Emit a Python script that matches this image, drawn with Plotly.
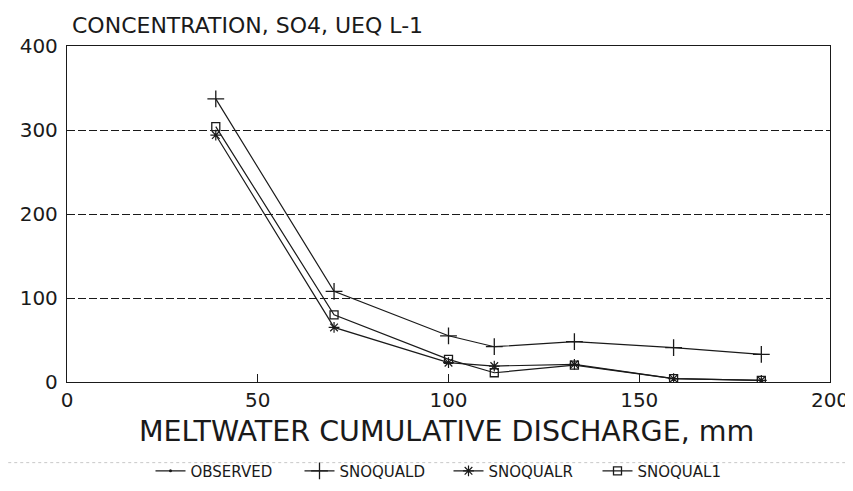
import plotly.graph_objects as go

# Data
discharge = [39, 70, 100, 112, 133, 159, 182]
observed = [None] * len(discharge)  # legend entry only (no visible points in the plot)
snoquald = [337, 108, 55, 42, 48, 41, 33]
snoqualr = [294, 65, 23, 19, 21, 4, 2]
snoqual1 = [304, 80, 27, 11, 20, 4, 2]

x_ticks = [0, 50, 100, 150, 200]
y_ticks = [0, 100, 200, 300, 400]

FONT = "DejaVu Sans"
INK = "#1a1a1a"

fig = go.Figure()
fig.add_trace(go.Scatter(x=discharge, y=observed, name="OBSERVED", mode="lines+markers",
                         line=dict(color=INK, width=1.2),
                         marker=dict(symbol="circle", size=3, color=INK)))
fig.add_trace(go.Scatter(x=discharge, y=snoquald, name="SNOQUALD", mode="lines+markers",
                         line=dict(color=INK, width=1.2),
                         marker=dict(symbol="cross-thin-open", size=12,
                                     line=dict(color=INK, width=1.3))))
fig.add_trace(go.Scatter(x=discharge, y=snoqualr, name="SNOQUALR", mode="lines+markers",
                         line=dict(color=INK, width=1.2),
                         marker=dict(symbol="asterisk-open", size=9,
                                     line=dict(color=INK, width=1.2))))
fig.add_trace(go.Scatter(x=discharge, y=snoqual1, name="SNOQUAL1", mode="lines+markers",
                         line=dict(color=INK, width=1.2),
                         marker=dict(symbol="square-open", size=8,
                                     line=dict(color=INK, width=1.3))))

fig.update_layout(
    width=853, height=491,
    margin=dict(l=59, r=24, t=38, b=111),
    paper_bgcolor="white", plot_bgcolor="white",
    font=dict(family=FONT, color=INK, size=20),
    showlegend=True,
    legend=dict(orientation="h", x=0.5, xanchor="center", y=-0.265, yanchor="middle",
                font=dict(size=15, family=FONT, color=INK),
                itemwidth=30, entrywidth=104, entrywidthmode="pixels",
                tracegroupgap=0, bgcolor="rgba(0,0,0,0)"),
    annotations=[
        dict(text="CONCENTRATION, SO4, UEQ L-1", xref="paper", yref="paper",
             x=0.004, y=1.0614, xanchor="left", yanchor="middle",
             showarrow=False, font=dict(size=22, family=FONT, color=INK)),
        dict(text="MELTWATER CUMULATIVE DISCHARGE, mm", xref="paper", yref="paper",
             x=0.4968, y=-0.148, xanchor="center", yanchor="middle",
             showarrow=False, font=dict(size=28.5, family=FONT, color=INK)),
    ],
    shapes=[
        # faint dotted rule across the page above the legend (as in the scan)
        dict(type="line", xref="paper", yref="paper", x0=-0.077, x1=1.031,
             y0=-0.24, y1=-0.24, line=dict(color="#c8c8c8", width=1, dash="dot")),
    ],
)
fig.update_xaxes(range=[0, 200], tickvals=x_ticks, ticks="inside", ticklen=8,
                 tickcolor=INK, tickwidth=1.2,
                 showline=True, linecolor=INK, linewidth=1.3, mirror=True,
                 showgrid=False, zeroline=False,
                 tickfont=dict(size=20))
fig.update_yaxes(range=[0, 400], tickvals=y_ticks, ticks="",
                 showline=True, linecolor=INK, linewidth=1.3, mirror=True,
                 showgrid=True, gridcolor=INK, gridwidth=1, griddash="8px,3px",
                 zeroline=False, tickfont=dict(size=20), ticklabelstandoff=4)

fig.write_html("out.html")
